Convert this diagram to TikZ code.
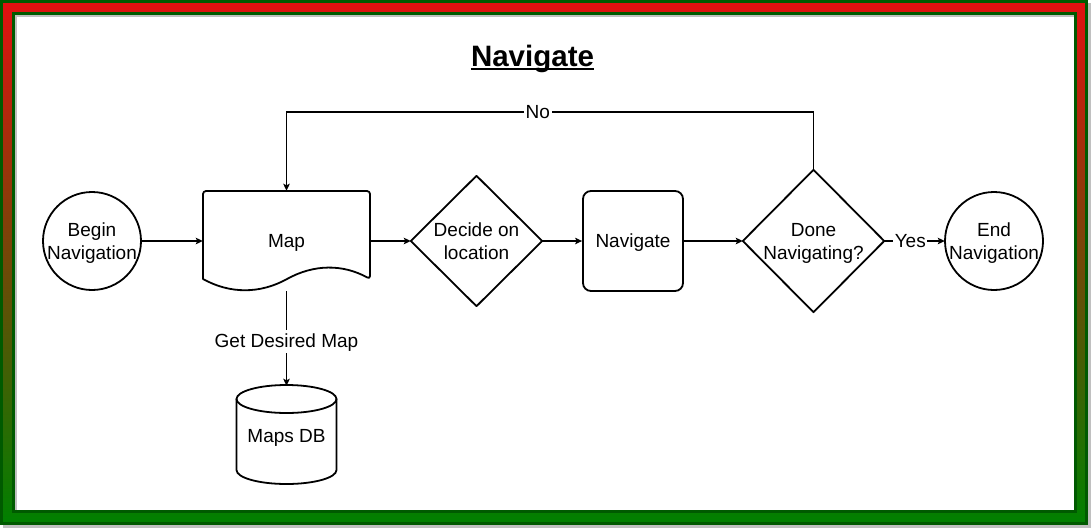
\documentclass[tikz,border=0pt]{standalone}
\usepackage{fontspec}
\setmainfont{Liberation Sans}
\usetikzlibrary{arrows.meta}
\definecolor{frred}{RGB}{226,16,16}
\definecolor{frgreen}{RGB}{0,128,0}
\definecolor{frdark}{RGB}{0,90,0}
\definecolor{shadowgray}{RGB}{192,192,192}
\newcommand{\sst}{\rule[-4.8pt]{0pt}{22.8pt}}
\begin{document}
\begin{tikzpicture}[x=1pt,y=-1pt,
  every node/.style={font=\fontsize{19}{23}\selectfont, align=center, inner sep=0pt},
  shapeline/.style={line width=1.8pt, line join=round, line cap=round},
  edge/.style={line width=1.2pt, -{Stealth[length=7pt,width=6.5pt,inset=1.5pt]}},
  lbl/.style={fill=white, inner xsep=1.5pt, inner ysep=0pt},
  titlefont/.style={font=\fontsize{29.5}{34}\selectfont\bfseries}
]
\useasboundingbox (0,0) rectangle (1091,528);
% frame
\fill[shadowgray] (3,3) rectangle (1091,528);
\draw[line width=3pt, draw=frdark, top color=frred, bottom color=frgreen] (1.5,1.5) rectangle (1086.5,523.5);
\fill[shadowgray] (15,15) rectangle (1074,510);
\fill[white] (17,17) rectangle (1074,510);
\draw[line width=3pt, draw=frdark] (13.5,13.5) rectangle (1075.5,511.5);

% title
\node[titlefont, anchor=base] (title) at (532.5,66) {Navigate};
\draw[line width=2pt] ([yshift=-2.6pt]title.base west) -- ([yshift=-2.6pt]title.base east);

% nodes
\node[minimum width=98pt, minimum height=98pt] (begin) at (92,241) {\sst Begin\\\sst Navigation};
\draw[shapeline] (begin.center) circle[radius=49pt];

\node[minimum width=167pt, minimum height=100pt] (map) at (286.5,241) {\sst Map};
\draw[shapeline] (203,279) [rounded corners=3pt] -- (203,191) -- (370,191) -- (370,279) [sharp corners]
  .. controls (343,264) and (314,264) .. (287,279)
  .. controls (260,294) and (230,294) .. (203,279);

\node[minimum width=131pt, minimum height=130pt] (decide) at (476.5,241) {\sst Decide on\\\sst location};
\draw[shapeline] (decide.north) -- (decide.east) -- (decide.south) -- (decide.west) -- cycle;

\node[draw, shapeline, rounded corners=8pt, minimum width=100pt, minimum height=100pt] (nav) at (633,241) {\sst Navigate};

\node[minimum width=141pt, minimum height=142pt] (done) at (813.5,241) {\sst Done\\\sst Navigating?};
\draw[shapeline] (done.north) -- (done.east) -- (done.south) -- (done.west) -- cycle;

\node[minimum width=98pt, minimum height=98pt] (end) at (994,241) {\sst End\\\sst Navigation};
\draw[shapeline] (end.center) circle[radius=49pt];

\node[minimum width=100pt, minimum height=100pt] (db) at (286.5,436) {\sst Maps DB};
\draw[shapeline] (236.5,399) -- (236.5,470) arc[start angle=180, end angle=360, x radius=50pt, y radius=14pt] -- (336.5,399);
\draw[shapeline] (286.5,399) ellipse[x radius=50pt, y radius=14pt];

% edges
\coordinate (noy) at (0,112);
\draw[edge] (begin.east) -- (map.west);
\draw[edge] (map.east) -- (decide.west);
\draw[edge] (decide.east) -- (nav.west);
\draw[edge] (nav.east) -- (done.west);
\draw[edge] (done.east) -- node[lbl, pos=0.43] (yes) {\sst Yes} (end.west);
\draw[edge] (done.north) -- (done.north |- noy) -- node[lbl, pos=0.523] (no) {\sst No} (map.north |- noy) -- (map.north);
\draw[edge] (map.south) -- node[lbl, pos=0.53] (get) {\sst Get Desired Map} (db.north);
\end{tikzpicture}
\end{document}
